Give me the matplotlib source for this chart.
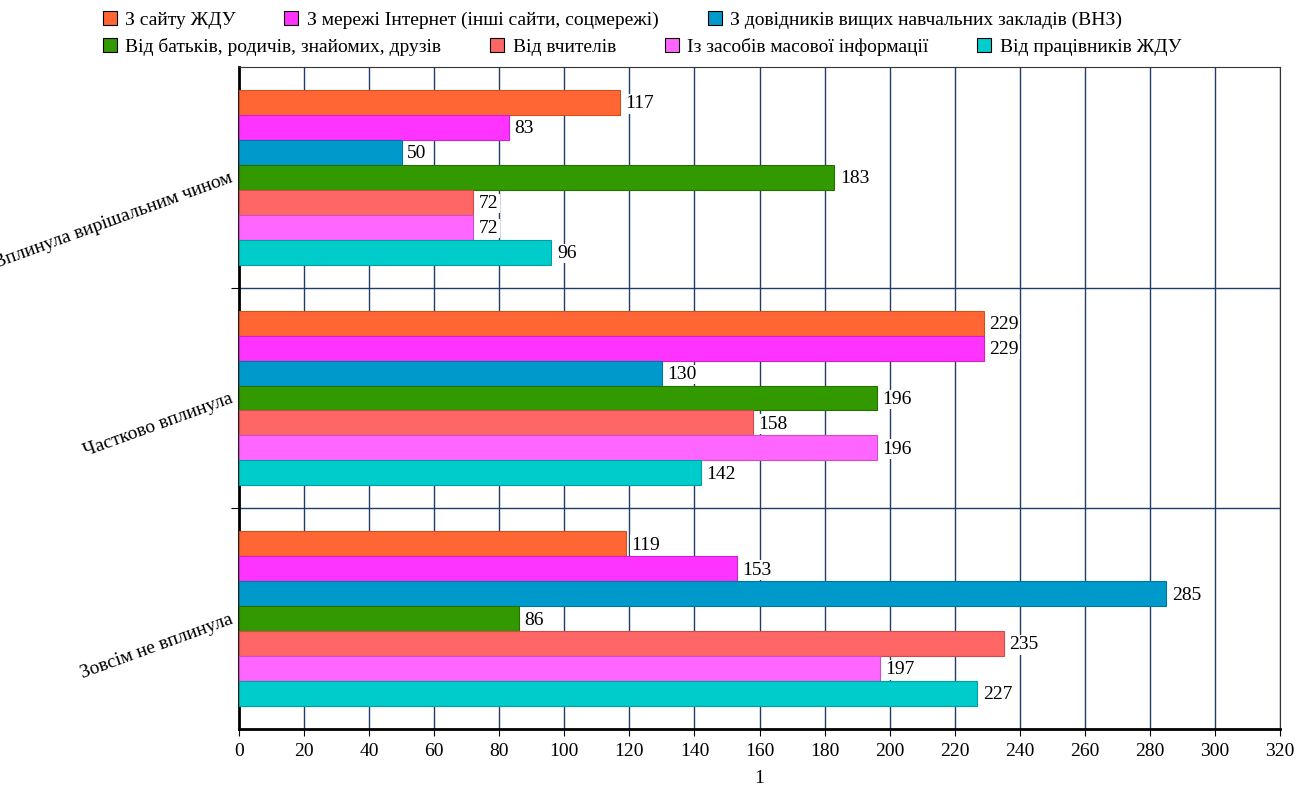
import numpy as np
import matplotlib
matplotlib.use('Agg')
from matplotlib import pyplot as plt
from matplotlib.patches import Patch

plt.rcParams['font.family'] = ['Liberation Serif', 'DejaVu Serif']

# категорії (зверху вниз)
categories = ['Вплинула вирішальним чином', 'Частково вплинула', 'Зовсім не вплинула']

# серії
series_names = ['З сайту ЖДУ',
                'З мережі Інтернет (інші сайти, соцмережі)',
                'З довідників вищих навчальних закладів (ВНЗ)',
                'Від батьків, родичів, знайомих, друзів',
                'Від вчителів',
                'Із засобів масової інформації',
                'Від працівників ЖДУ']
site_zdu = [117, 229, 119]
internet = [83, 229, 153]
dovidnyky = [50, 130, 285]
batky = [183, 196, 86]
vchyteli = [72, 158, 235]
zmi = [72, 196, 197]
pratsivnyky = [96, 142, 227]
values = [site_zdu, internet, dovidnyky, batky, vchyteli, zmi, pratsivnyky]

colors = ['#FF6633', '#FF33FF', '#0099CC', '#339900', '#FF6666', '#FF66FF', '#00CCCC']
edges = ['#CC4F22', '#CC22CC', '#0077A0', '#247000', '#CC4C4C', '#CC4CCC', '#00A0A0']

fig = plt.figure(figsize=(12.99, 7.87), dpi=100)
ax = fig.add_axes([0.184, 0.0737, 0.8014, 0.8412])

grid_col = '#1F3C6B'
fs = 14
h = 0.113
y_center = np.arange(len(categories))
for j, vals in enumerate(values):
    ypos = y_center + (j - 3) * h
    ax.barh(ypos, vals, height=h, color=colors[j], edgecolor=edges[j],
            linewidth=0.8, zorder=3)
    for y, v in zip(ypos, vals):
        ax.annotate(str(v), (v, y), xytext=(4, -1), textcoords='offset points',
                    ha='left', va='center', fontsize=fs, zorder=4,
                    bbox=dict(facecolor='white', edgecolor='none', pad=1.0))

ax.set_xlim(0, 320)
ax.set_ylim(2.5, -0.5)
ax.set_xticks(np.arange(0, 321, 20))
ax.tick_params(axis='x', labelsize=fs, length=5, color='black', pad=5)
ax.xaxis.grid(True, color=grid_col, linewidth=1.0, zorder=0)

# межі категорій як основні поділки, назви як допоміжні
ax.set_yticks([0.5, 1.5])
ax.set_yticklabels([])
ax.set_yticks(y_center, minor=True)
ax.set_yticklabels(categories, minor=True, rotation=20, ha='right',
                   va='center', rotation_mode='anchor', fontsize=fs)
ax.tick_params(axis='y', which='minor', length=0, pad=5)
ax.tick_params(axis='y', which='major', length=6, color='black')
ax.yaxis.grid(True, which='major', color=grid_col, linewidth=1.0, zorder=0)

ax.spines['left'].set_linewidth(2)
ax.spines['bottom'].set_linewidth(2)
ax.spines['top'].set_color('#333333')
ax.spines['right'].set_color('#333333')
ax.set_xlabel('1', fontsize=fs, labelpad=7)

handles = [Patch(facecolor=c, edgecolor='black', linewidth=0.8) for c in colors]
leg_kw = dict(ncol=4, loc='upper left', frameon=False, fontsize=fs,
              handlelength=0.72, handleheight=0.72, handletextpad=0.45,
              columnspacing=2.5, borderaxespad=0.0, borderpad=0.0)
fig.legend(handles[:3], series_names[:3], bbox_to_anchor=(0.079, 0.986), **leg_kw)
fig.legend(handles[3:], series_names[3:], bbox_to_anchor=(0.079, 0.952), **leg_kw)

plt.savefig('out.png', dpi=100)
